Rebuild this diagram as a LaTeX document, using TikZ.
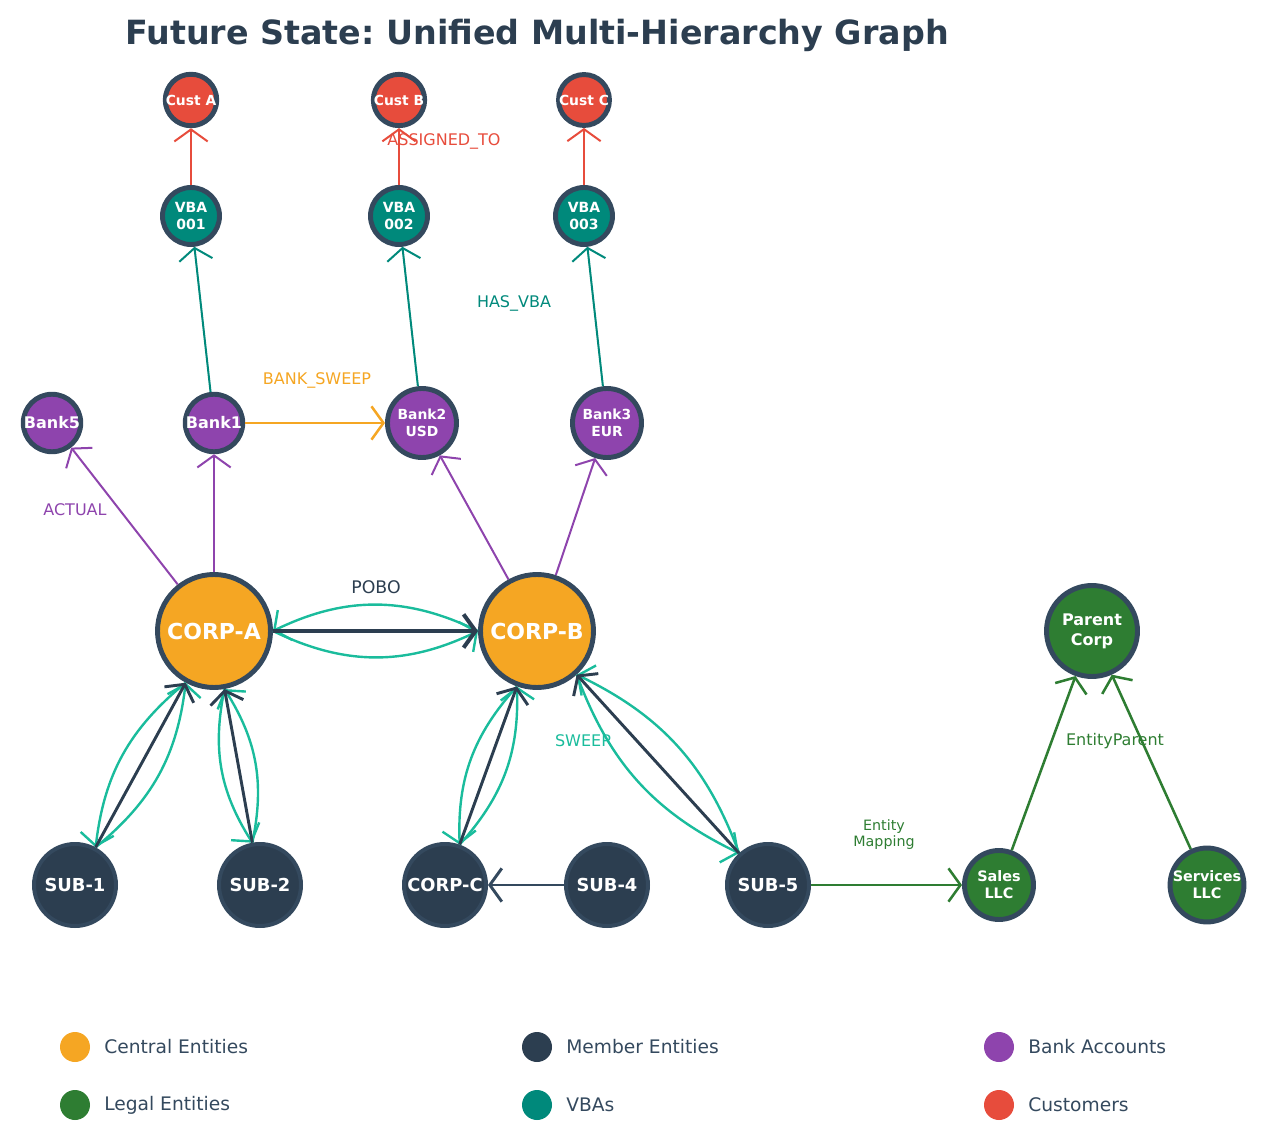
\documentclass[tikz,border=0pt]{standalone}
\usepackage{fontspec}
\setmainfont{DejaVu Sans}
\usetikzlibrary{arrows.meta,calc}
\frenchspacing
\definecolor{corange}{HTML}{F5A623}
\definecolor{cdark}{HTML}{2C3E50}
\definecolor{cborder}{HTML}{34495E}
\definecolor{cpurple}{HTML}{8E44AD}
\definecolor{cteal}{HTML}{00897B}
\definecolor{cred}{HTML}{E74C3C}
\definecolor{cgreen}{HTML}{2E7D32}
\definecolor{ccyan}{HTML}{1ABC9C}
\tikzset{
  ent/.style={circle, draw=cborder, line width=3.7pt, text=white, align=center, inner sep=0pt},
  cust/.style={ent, fill=cred, minimum size=33.75pt, font=\bfseries\fontsize{10.4}{12.5}\selectfont},
  vba/.style={ent, fill=cteal, minimum size=42.75pt, font=\bfseries\fontsize{10.5}{12.5}\selectfont},
  banks/.style={ent, fill=cpurple, minimum size=42.75pt, font=\bfseries\fontsize{12}{14}\selectfont},
  bankl/.style={ent, fill=cpurple, minimum size=51.75pt, font=\bfseries\fontsize{10.4}{12.5}\selectfont},
  corp/.style={ent, fill=corange, minimum size=84.75pt, font=\bfseries\fontsize{16.5}{19}\selectfont},
  sub/.style={ent, fill=cdark, line width=3pt, minimum size=61.5pt, font=\bfseries\fontsize{13.4}{16}\selectfont},
  legal/.style={ent, fill=cgreen, minimum size=51.75pt, font=\bfseries\fontsize{10.8}{12.8}\selectfont},
  parent/.style={ent, fill=cgreen, minimum size=68.25pt, font=\bfseries\fontsize{12}{15}\selectfont},
  edge/.style={line width=1.5pt, -{Straight Barb[length=9pt,width=25pt]}},
  redge/.style={edge, draw=cred},
  tedge/.style={edge, draw=cteal},
  pedge/.style={edge, draw=cpurple},
  oedge/.style={edge, draw=corange, line width=1.9pt},
  dedge/.style={edge, draw=cdark, line width=2.2pt},
  cedge/.style={edge, draw=ccyan, line width=1.8pt},
  gedge/.style={edge, draw=cgreen, line width=1.9pt},
  elabel/.style={font=\fontsize{12}{14}\selectfont, inner sep=0pt},
  legdot/.style={circle, minimum size=22.5pt, inner sep=0pt},
  legtext/.style={anchor=west, text=cborder, font=\fontsize{14}{16}\selectfont, inner sep=0pt},
}
\begin{document}
\begin{tikzpicture}[x=0.75pt, y=-0.75pt]
\path[use as bounding box] (0,0) rectangle (1265,1141);
\node[font=\bfseries\fontsize{25}{30}\selectfont, text=cdark] (title) at (537,35) {Future State: Unified Multi-Hierarchy Graph};

% customers
\node[cust] (custA) at (191,100) {Cust A};
\node[cust] (custB) at (399,100) {Cust B};
\node[cust] (custC) at (584,100) {Cust C};
% VBAs
\node[vba] (vba1) at (191,216) {VBA\\001};
\node[vba] (vba2) at (399,216) {VBA\\002};
\node[vba] (vba3) at (584,216) {VBA\\003};
% banks
\node[banks] (bank5) at (52,423) {Bank5};
\node[banks] (bank1) at (214,423) {Bank1};
\node[bankl] (bank2) at (422,423) {Bank2\\USD};
\node[bankl] (bank3) at (607,423) {Bank3\\EUR};
% central
\node[corp] (corpA) at (214,631) {CORP-A};
\node[corp] (corpB) at (537,631) {CORP-B};
\node[parent] (pcorp) at (1092,631) {Parent\\Corp};
% members
\node[sub] (sub1) at (75,885) {SUB-1};
\node[sub] (sub2) at (260,885) {SUB-2};
\node[sub] (corpC) at (445,885) {CORP-C};
\node[sub] (sub4) at (607,885) {SUB-4};
\node[sub] (sub5) at (768,885) {SUB-5};
% legal
\node[legal] (sales) at (999,885) {Sales\\LLC};
\node[legal] (serv) at (1207,885) {Services\\LLC};

% border points on the chords (for the curved SWEEP edges)
\coordinate (aB) at ($(corpA.center)!44.25pt!(corpB.center)$);
\coordinate (bA) at ($(corpB.center)!44.25pt!(corpA.center)$);
\coordinate (a1) at ($(corpA.center)!44.25pt!(sub1.center)$);
\coordinate (s1) at ($(sub1.center)!32.25pt!(corpA.center)$);
\coordinate (a2) at ($(corpA.center)!44.25pt!(sub2.center)$);
\coordinate (s2) at ($(sub2.center)!32.25pt!(corpA.center)$);
\coordinate (bC) at ($(corpB.center)!44.25pt!(corpC.center)$);
\coordinate (cB) at ($(corpC.center)!32.25pt!(corpB.center)$);
\coordinate (b5) at ($(corpB.center)!44.25pt!(sub5.center)$);
\coordinate (s5) at ($(sub5.center)!32.25pt!(corpB.center)$);

% edges
\draw[redge] (vba1) -- (custA);
\draw[redge] (vba2) -- (custB);
\draw[redge] (vba3) -- (custC);
\draw[tedge] (bank1) -- (vba1);
\draw[tedge] (bank2) -- (vba2);
\draw[tedge] (bank3) -- (vba3);
\draw[oedge] (bank1) -- (bank2);
\draw[pedge] (corpA) -- (bank5);
\draw[pedge] (corpA) -- (bank1);
\draw[pedge] (corpB) -- (bank2);
\draw[pedge] (corpB) -- (bank3);

\draw[cedge] (aB) to[bend right=26] (bA);
\draw[cedge] (bA) to[bend right=26] (aB);
\draw[cedge] (a1) to[bend right=22] (s1);
\draw[cedge] (s1) to[bend right=22] (a1);
\draw[cedge] (a2) to[bend right=22] (s2);
\draw[cedge] (s2) to[bend right=22] (a2);
\draw[cedge] (bC) to[bend right=22] (cB);
\draw[cedge] (cB) to[bend right=22] (bC);
\draw[cedge] (b5) to[bend right=22] (s5);
\draw[cedge] (s5) to[bend right=22] (b5);

\draw[dedge, line width=3pt] (corpA) -- (corpB);
\draw[dedge] (sub1) -- (corpA);
\draw[dedge] (sub2) -- (corpA);
\draw[dedge] (corpC) -- (corpB);
\draw[dedge] (sub5) -- (corpB);
\draw[dedge, draw=cborder] (sub4) -- (corpC);

\draw[gedge] (sub5) -- (sales);
\draw[gedge] (sales) -- (pcorp);
\draw[gedge] (serv) -- (pcorp);

% edge labels
\node[elabel, text=cred] (lassign) at (444,141) {ASSIGNED\_TO};
\node[elabel, text=cteal] (lhasvba) at (514,303) {HAS\_VBA};
\node[elabel, text=corange] (lsweepb) at (317,380) {BANK\_SWEEP};
\node[elabel, text=cpurple] (lactual) at (75,510) {ACTUAL};
\node[elabel, text=cdark, font=\fontsize{13}{15}\selectfont] (lpobo) at (376,587) {POBO};
\node[elabel, text=ccyan] (lsweep) at (583,741) {SWEEP};
\node[elabel, text=cgreen] (lentpar) at (1115,741) {EntityParent};
\node[elabel, text=cgreen, align=center, font=\fontsize{10.7}{12}\selectfont] (lentmap) at (884,835) {Entity\\Mapping};

% legend
\node[legdot, fill=corange] (lg1) at (75,1047) {};
\node[legtext] (lt1) at (104,1047) {Central Entities};
\node[legdot, fill=cdark] (lg2) at (537,1047) {};
\node[legtext] (lt2) at (566,1047) {Member Entities};
\node[legdot, fill=cpurple] (lg3) at (999,1047) {};
\node[legtext] (lt3) at (1028,1047) {Bank Accounts};
\node[legdot, fill=cgreen] (lg4) at (75,1105) {};
\node[legtext] (lt4) at (104,1105) {Legal Entities};
\node[legdot, fill=cteal] (lg5) at (537,1105) {};
\node[legtext] (lt5) at (566,1105) {VBAs};
\node[legdot, fill=cred] (lg6) at (999,1105) {};
\node[legtext] (lt6) at (1028,1105) {Customers};
\end{tikzpicture}
\end{document}
